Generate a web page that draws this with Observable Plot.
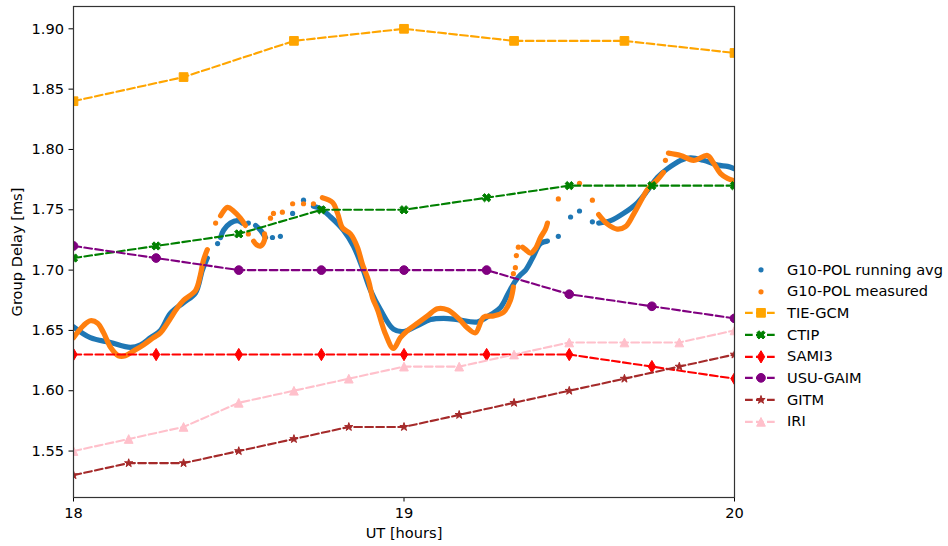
<!DOCTYPE html>
<html><head><meta charset="utf-8">
<script src="https://cdn.jsdelivr.net/npm/d3@7"></script>
<script src="https://cdn.jsdelivr.net/npm/@observablehq/plot@0.6"></script>
<style>
body{margin:0;background:#fff;font-family:"DejaVu Sans",sans-serif;}
#wrap{position:relative;width:948px;height:546px;}
#legend{position:absolute;left:743px;top:259px;font-size:14.6px;color:#000;line-height:1;}
.row{display:flex;align-items:center;height:21.7px;white-space:nowrap;}
.row svg{width:36px;height:21.7px;margin-right:8px;flex:none;overflow:visible}
</style></head><body><div id="wrap"><div id="legend"></div></div>
<script>
// ---------- data ----------
const tieTime = [18, 18.333, 18.667, 19, 19.333, 19.667, 20];
const tieGcm  = [1.84, 1.86, 1.89, 1.90, 1.89, 1.89, 1.88];
const quarterTime = [18, 18.25, 18.5, 18.75, 19, 19.25, 19.5, 19.75, 20];
const ctip    = [1.71, 1.72, 1.73, 1.75, 1.75, 1.76, 1.77, 1.77, 1.77];
const sami3   = [1.63, 1.63, 1.63, 1.63, 1.63, 1.63, 1.63, 1.62, 1.61];
const usuGaim = [1.72, 1.71, 1.70, 1.70, 1.70, 1.70, 1.68, 1.67, 1.66];
const tenMinTime = [18, 18.167, 18.333, 18.5, 18.667, 18.833, 19, 19.167, 19.333, 19.5, 19.667, 19.833, 20];
const gitm    = [1.53, 1.54, 1.54, 1.55, 1.56, 1.57, 1.57, 1.58, 1.59, 1.60, 1.61, 1.62, 1.63];
const iri     = [1.55, 1.56, 1.57, 1.59, 1.60, 1.61, 1.62, 1.62, 1.63, 1.64, 1.64, 1.64, 1.65];

// G10-POL running average: continuous stretches [time, delay] and isolated samples
const avgSeg1 = [[18.000,1.653],[18.051,1.644],[18.112,1.640],[18.172,1.636],[18.203,1.638],[18.233,1.644],[18.263,1.650],[18.293,1.664],[18.333,1.673],[18.369,1.681],[18.390,1.700],[18.405,1.710]];
const avgSeg2 = [[18.445,1.727],[18.454,1.733],[18.475,1.739],[18.496,1.741],[18.511,1.739]];
const avgSeg3 = [[18.551,1.737],[18.566,1.733],[18.581,1.727]];
const avgSeg4 = [[18.726,1.753],[18.747,1.751],[18.778,1.744],[18.817,1.733],[18.847,1.720],[18.874,1.702],[18.899,1.683],[18.929,1.667],[18.968,1.651],[18.998,1.649],[19.041,1.654],[19.080,1.659],[19.120,1.660],[19.162,1.659],[19.222,1.657],[19.262,1.663],[19.292,1.669],[19.316,1.681],[19.337,1.691],[19.352,1.696],[19.368,1.700],[19.389,1.710],[19.413,1.722],[19.434,1.724]];
const avgSeg5 = [[19.589,1.739],[19.625,1.741],[19.664,1.747],[19.707,1.756],[19.737,1.766],[19.767,1.777],[19.797,1.784],[19.837,1.791],[19.867,1.793],[19.906,1.791],[19.949,1.787],[19.979,1.786],[20.000,1.784]];
const avgDots = [[18.436,1.722],[18.529,1.739],[18.602,1.727],[18.626,1.728],[18.663,1.747],[18.696,1.758],[19.467,1.728],[19.504,1.744],[19.531,1.749],[19.570,1.740]];

// G10-POL measured
const measSeg1 = [[18.000,1.644],[18.030,1.654],[18.051,1.658],[18.073,1.656],[18.091,1.648],[18.112,1.636],[18.136,1.629],[18.157,1.629],[18.182,1.633],[18.212,1.638],[18.242,1.644],[18.263,1.648],[18.284,1.656],[18.315,1.669],[18.333,1.675],[18.369,1.683],[18.384,1.696],[18.393,1.708],[18.405,1.717]];
const measSeg2 = [[18.445,1.745],[18.466,1.752],[18.484,1.749],[18.505,1.743],[18.520,1.737]];
const measSeg3 = [[18.545,1.724],[18.554,1.721],[18.566,1.720],[18.578,1.725],[18.578,1.730]];
const measSeg4 = [[18.753,1.760],[18.784,1.756],[18.799,1.747],[18.814,1.735],[18.838,1.730],[18.859,1.719],[18.874,1.705],[18.893,1.691],[18.905,1.677],[18.920,1.667],[18.944,1.647],[18.968,1.635],[18.989,1.644],[19.011,1.650],[19.041,1.656],[19.071,1.662],[19.101,1.668],[19.132,1.667],[19.165,1.660],[19.192,1.652],[19.216,1.648],[19.241,1.661],[19.271,1.662],[19.301,1.665],[19.322,1.675],[19.331,1.686]];
const measSeg5 = [[19.359,1.719],[19.368,1.717],[19.383,1.714],[19.398,1.718],[19.413,1.727],[19.428,1.734],[19.434,1.739]];
const measSeg6 = [[19.589,1.746],[19.616,1.738],[19.645,1.734],[19.670,1.736],[19.694,1.746],[19.722,1.760],[19.737,1.767],[19.767,1.775],[19.785,1.781]];
const measSeg7 = [[19.800,1.797],[19.837,1.795],[19.876,1.791],[19.918,1.795],[19.936,1.789],[19.958,1.780],[19.979,1.776],[20.000,1.774]];
const measDots = [[18.430,1.739],[18.529,1.730],[18.596,1.743],[18.605,1.747],[18.632,1.748],[18.663,1.755],[18.696,1.755],[18.726,1.755],[19.331,1.697],[19.337,1.702],[19.340,1.712],[19.346,1.719],[19.467,1.759],[19.531,1.772],[19.570,1.758],[19.791,1.791]];

const yTicks = [1.55, 1.60, 1.65, 1.70, 1.75, 1.80, 1.85, 1.90];
const xTicks = [18, 19, 20];

// ---------- marker shapes (matplotlib-like) ----------
const MS = 8.7;
const sq = {draw(c){const h=MS/2;c.moveTo(-h,-h);c.lineTo(h,-h);c.lineTo(h,h);c.lineTo(-h,h);c.closePath();}};
const circ = {draw(c){const r=MS/2;c.moveTo(r,0);c.arc(0,0,r,0,2*Math.PI);c.closePath();}};
const thinDiamond = {draw(c){const h=MS*0.707,w=h*0.6;c.moveTo(0,-h);c.lineTo(w,0);c.lineTo(0,h);c.lineTo(-w,0);c.closePath();}};
const xFilled = {draw(c){const s=MS/4.2;const p=[[-1,-2],[0,-1],[1,-2],[2,-1],[1,0],[2,1],[1,2],[0,1],[-1,2],[-2,1],[-1,0],[-2,-1]];p.forEach(([x,y],i)=>i?c.lineTo(x*s,y*s):c.moveTo(x*s,y*s));c.closePath();}};
const star = {draw(c){const R=MS/2,r=R*0.382;for(let i=0;i<10;i++){const a=-Math.PI/2+i*Math.PI/5,rr=i%2?r:R;const x=rr*Math.cos(a),y=rr*Math.sin(a);i?c.lineTo(x,y):c.moveTo(x,y);}c.closePath();}};
const tri = {draw(c){const h=MS/2;c.moveTo(0,-h);c.lineTo(h,h);c.lineTo(-h,h);c.closePath();}};

const models = [
  {name:"TIE-GCM",  t:tieTime,     v:tieGcm,  color:"#ffa500", sym:sq},
  {name:"CTIP",     t:quarterTime, v:ctip,    color:"#008000", sym:xFilled},
  {name:"SAMI3",    t:quarterTime, v:sami3,   color:"#ff0000", sym:thinDiamond},
  {name:"USU-GAIM", t:quarterTime, v:usuGaim, color:"#800080", sym:circ},
  {name:"GITM",     t:tenMinTime,  v:gitm,    color:"#a52a2a", sym:star},
  {name:"IRI",      t:tenMinTime,  v:iri,     color:"#ffc0cb", sym:tri}
];
const BLUE="#1f77b4", ORANGE="#ff7f0e";
const DASH="7.7,3.3";

const segLine = (seg, color) => Plot.line(seg, {x:d=>d[0], y:d=>d[1], stroke:color, strokeWidth:5.2, curve:"catmull-rom", strokeLinecap:"round", strokeLinejoin:"round", clip:true});
const marks = [];
[avgSeg1,avgSeg2,avgSeg3,avgSeg4,avgSeg5].forEach(s=>marks.push(segLine(s,BLUE)));
marks.push(Plot.dot(avgDots,{x:d=>d[0],y:d=>d[1],r:2.6,fill:BLUE,clip:true}));
[measSeg1,measSeg2,measSeg3,measSeg4,measSeg5,measSeg6,measSeg7].forEach(s=>marks.push(segLine(s,ORANGE)));
marks.push(Plot.dot(measDots,{x:d=>d[0],y:d=>d[1],r:2.6,fill:ORANGE,clip:true}));
for (const m of models) {
  const rows = m.t.map((t,i)=>({t, v:m.v[i]}));
  marks.push(Plot.line(rows,{x:"t",y:"v",stroke:m.color,strokeWidth:2.1,strokeDasharray:DASH,clip:true}));
  marks.push(Plot.dot(rows,{x:"t",y:"v",symbol:m.sym,fill:m.color,stroke:m.color,strokeWidth:1,clip:true}));
}
marks.push(Plot.frame({stroke:"#333",strokeWidth:1.2}));

const chart = Plot.plot({
  width:948, height:546,
  marginLeft:73, marginRight:214, marginTop:6, marginBottom:49,
  style:{fontFamily:"DejaVu Sans", fontSize:"14.6px", color:"#000", background:"#fff", overflow:"visible"},
  x:{domain:[18,20], ticks:xTicks, tickFormat:d=>String(d), label:"UT [hours]", labelArrow:false, labelAnchor:"center", labelOffset:40, tickSize:4.5, tickPadding:6},
  y:{domain:[1.5115,1.9185], ticks:yTicks, tickFormat:d=>d.toFixed(2), label:"Group Delay [ms]", labelArrow:false, labelAnchor:"center", labelOffset:62, tickSize:4.5, tickPadding:5},
  marks
});
document.getElementById("wrap").prepend(chart);

// ---------- legend ----------
const legend = d3.select("#legend");
const addRow = (label, draw) => {
  const row = legend.append("div").attr("class","row");
  const svg = row.append("svg").attr("viewBox","0 0 36 21.7");
  draw(svg);
  row.append("span").text(label);
};
addRow("G10-POL running avg", s=>s.append("circle").attr("cx",18).attr("cy",10.85).attr("r",2.6).attr("fill",BLUE));
addRow("G10-POL measured", s=>s.append("circle").attr("cx",18).attr("cy",10.85).attr("r",2.6).attr("fill",ORANGE));
for (const m of models) {
  addRow(m.name, s=>{
    s.append("line").attr("x1",2).attr("x2",34).attr("y1",10.85).attr("y2",10.85).attr("stroke",m.color).attr("stroke-width",2.1).attr("stroke-dasharray",DASH);
    s.append("path").attr("d",d3.symbol().type(m.sym)()).attr("transform","translate(18,10.85)").attr("fill",m.color).attr("stroke",m.color).attr("stroke-width",1);
  });
}
</script></body></html>
